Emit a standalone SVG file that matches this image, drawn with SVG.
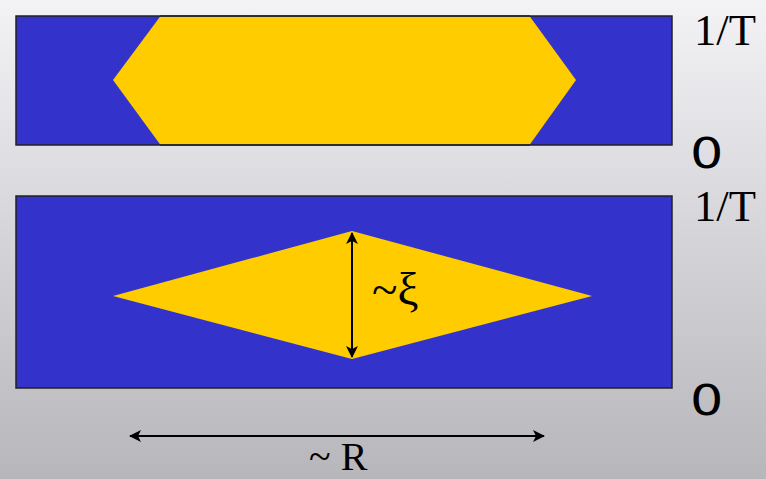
<svg xmlns="http://www.w3.org/2000/svg" width="766" height="479" viewBox="0 0 766 479">
<defs>
<linearGradient id="bg" x1="0" y1="0" x2="0" y2="1">
<stop offset="0" stop-color="#f3f3f6"/>
<stop offset="1" stop-color="#b6b6bb"/>
</linearGradient>
<marker id="ah" viewBox="0 0 12 12" refX="11" refY="6" markerWidth="12" markerHeight="12" markerUnits="userSpaceOnUse" orient="auto-start-reverse">
<path d="M0,0 L12,6 L0,12 L3,6 Z" fill="#000"/>
</marker>
<style>
.panel{fill:#3333cc;stroke:#222;stroke-width:1.5}
.hot{fill:#ffcc00}
.serif{font-family:"Liberation Serif","Times New Roman",serif;fill:#000}
.sans{font-family:"DejaVu Sans","Liberation Sans",sans-serif;fill:#000}
.arr{stroke:#000;stroke-width:2;fill:none;marker-start:url(#ah);marker-end:url(#ah)}
</style>
</defs>
<rect width="766" height="479" fill="url(#bg)"/>
<g id="top-panel">
<rect class="panel" x="16" y="16" width="656" height="129"/>
<polygon class="hot" points="160,16.8 530,16.8 576,80 530,144.2 160,144.2 113,80"/>
<line x1="160" y1="16" x2="530" y2="16" stroke="#222" stroke-width="1.5"/>
<line x1="160" y1="145" x2="530" y2="145" stroke="#222" stroke-width="1.5"/>
</g>
<g id="bottom-panel">
<rect class="panel" x="16" y="196" width="656" height="192"/>
<polygon class="hot" points="113,296 352,231 592,296 352,359"/>
</g>
<g id="labels">
<text class="serif" x="694" y="45" font-size="45" textLength="62" lengthAdjust="spacingAndGlyphs">1/T</text>
<text class="sans" transform="translate(690,168) scale(1.25,1)" font-size="42">0</text>
<text class="serif" x="694" y="221" font-size="45" textLength="62" lengthAdjust="spacingAndGlyphs">1/T</text>
<text class="sans" transform="translate(690,415) scale(1.25,1)" font-size="42">0</text>
<text class="serif" x="372" y="305" font-size="47">~ξ</text>
<text class="serif" x="309" y="470" font-size="40">~ R</text>
</g>
<g id="connectors">
<line class="arr" x1="352" y1="233" x2="352" y2="357"/>
<line class="arr" x1="130" y1="436" x2="544" y2="436"/>
</g>
</svg>
